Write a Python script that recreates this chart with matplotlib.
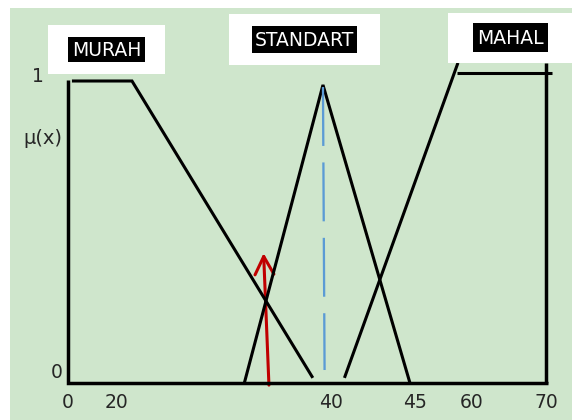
import numpy as np
import matplotlib
matplotlib.use("Agg")
import matplotlib.pyplot as plt
from matplotlib.patches import Rectangle, FancyArrowPatch

# ---------------- data (x: price, y: membership degree) ----------------
tick_values = [0, 20, 40, 45, 60, 70]
tick_labels = ["0", "20", "40", "45", "60", "70"]
set_names = ["MURAH", "STANDART", "MAHAL"]

axis_x = [0, 0, 70.3]
axis_y = [1.003, 0, 0]

murah_x = [1.6, 21.4, 38.3]
murah_y = [1.0, 1.0, 0.017]

standart_x = [31.9, 39.25, 44.7]
standart_y = [0.0, 0.987, 0.0]

mahal_rise_x = [40.8, 56.3]
mahal_rise_y = [0.017, 1.06]
mahal_top_x = [56.0, 70.8]
mahal_top_y = [1.026, 1.026]
mahal_edge_x = [70, 70]
mahal_edge_y = [1.06, 0]

peak_x = [39.25, 39.4]
peak_y = [0.98, 0.043]

input_x = [34.2, 33.7]
input_y = [-0.007, 0.43]

# ---------------- layout ----------------
W, H = 572, 420
tick_px = [68, 117, 331, 415, 472, 546]   # hand-drawn (non-linear) axis


def _pl(x, xs, ys):
    x = np.asarray(x, float)
    xs = np.asarray(xs, float)
    ys = np.asarray(ys, float)
    y = np.interp(x, xs, ys)
    s0 = (ys[1] - ys[0]) / (xs[1] - xs[0])
    s1 = (ys[-1] - ys[-2]) / (xs[-1] - xs[-2])
    y = np.where(x < xs[0], ys[0] + (x - xs[0]) * s0, y)
    y = np.where(x > xs[-1], ys[-1] + (x - xs[-1]) * s1, y)
    return y


def fwd(v):
    return _pl(v, tick_values, tick_px)


def inv(p):
    return _pl(p, tick_px, tick_values)


green = "#cfe6cc"
fig = plt.figure(figsize=(W / 100, H / 100), dpi=100, facecolor="white")
ax = fig.add_axes([10 / W, 0, (W - 10) / W, (H - 8) / H], facecolor=green)
ax.set_xscale("function", functions=(fwd, inv))
ax.set_xlim(float(inv(10)), float(inv(W)))
y0px, y1px = 383, 81
ppu = y0px - y1px
ax.set_ylim((y0px - H) / ppu, (y0px - 8) / ppu)
for s in ax.spines.values():
    s.set_visible(False)
ax.set_xticks([])
ax.set_yticks([])

lw = 2.2
kw = dict(color="black", lw=lw, solid_joinstyle="miter", solid_capstyle="butt")
ax.plot(axis_x, axis_y, **{**kw, "lw": 2.5})
ax.plot(murah_x, murah_y, **kw)
ax.plot(standart_x, standart_y, **kw)
ax.plot(mahal_rise_x, mahal_rise_y, **kw)
ax.plot(mahal_top_x, mahal_top_y, **kw)
ax.plot(mahal_edge_x, mahal_edge_y, **{**kw, "lw": 2.5})

bl, = ax.plot(peak_x, peak_y, color="#5b9bd5", lw=1.65, solid_capstyle="butt")
bl.set_dashes((25.7, 7.2))

arr = FancyArrowPatch((input_x[0], input_y[0]), (input_x[1], input_y[1]),
                      arrowstyle="->,head_length=0.65,head_width=0.34",
                      mutation_scale=20, color="#c00000", lw=2.2,
                      shrinkA=0, shrinkB=0)
ax.add_patch(arr)

txt_color = "#262626"
for v, lab in zip(tick_values, tick_labels):
    ax.text(v, (y0px - 403) / ppu, lab, ha="center", va="center",
            fontsize=13.5, color=txt_color)


def px_rect(x0, y0, x1, y1, color, z=2):
    fig.add_artist(Rectangle((x0 / W, 1 - y1 / H), (x1 - x0) / W, (y1 - y0) / H,
                             transform=fig.transFigure, facecolor=color,
                             edgecolor="none", zorder=z))


# white boxes and black highlighted labels
boxes = [(48, 25, 165, 74), (229, 14, 380, 65), (448, 13, 572, 63)]
labels_bg = [(68, 37, 145, 62), (252, 26, 357, 53), (473, 23, 548, 52)]
for b in boxes:
    px_rect(*b, "white")
for (x0, y0, x1, y1), name in zip(labels_bg, set_names):
    px_rect(x0, y0, x1, y1, "black", z=3)
    fig.text((x0 + x1) / 2 / W, 1 - ((y0 + y1) / 2 + 1) / H, name,
             ha="center", va="center", color="white", fontsize=13.5, zorder=4)

fig.text(38 / W, 1 - 77 / H, "1", ha="center", va="center", fontsize=13.5,
         color=txt_color)
fig.text(57 / W, 1 - 373 / H, "0", ha="center", va="center", fontsize=13.5,
         color=txt_color)
fig.text(43 / W, 1 - 138 / H, "μ(x)", ha="center", va="center", fontsize=14,
         color=txt_color)

fig.savefig("out.png", dpi=100, facecolor="white")
